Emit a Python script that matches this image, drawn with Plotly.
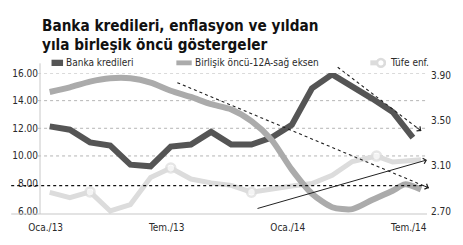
import plotly.graph_objects as go

# ---------------- data ----------------
months = list(range(19))  # Oca./13 ... Tem./14 (month index)
banka_kredileri = [12.14, 11.90, 10.98, 10.75, 9.37, 9.25, 10.68, 10.82, 11.74, 10.82,
                   10.82, 11.33, 12.25, 14.90, 15.90, 15.07, 14.13, 13.18, 11.33]

oncu_x = [0, 1, 2, 3, 4, 5, 6, 7, 8, 9, 10, 11, 12, 13, 14, 15, 16, 17, 17.6, 18.4]
birlesik_oncu = [3.753, 3.794, 3.845, 3.874, 3.874, 3.836, 3.764, 3.709, 3.645, 3.598,
                 3.495, 3.33, 3.066, 2.853, 2.734, 2.717, 2.80, 2.88, 2.936, 2.89]

tufe_x = [0, 1, 2, 3, 4, 5, 6, 7, 8, 9, 10, 11, 12, 13, 14, 15, 16.2, 17, 18.4]
tufe_enf = [7.36, 6.99, 7.40, 6.02, 6.48, 8.44, 9.13, 8.33, 8.05, 7.87,
            7.38, 7.64, 7.83, 8.00, 8.60, 9.60, 9.99, 9.56, 9.72]
tufe_marked = [2, 6, 10, 16]  # indices drawn with open circle markers

tick_months = [0, 6, 12, 18]
tick_labels = ["Oca./13", "Tem./13", "Oca./14", "Tem./14"]
left_ticks = [6, 8, 10, 12, 14, 16]
right_ticks = [2.7, 3.1, 3.5, 3.9]
grid_vals = [10, 12, 14, 16]
ref_line = 7.85

title_lines = ["Banka kredileri, enflasyon ve yıldan", "yıla birleşik öncü göstergeler"]
legend_names = ["Banka kredileri", "Birlişik öncü-12A-sağ eksen", "Tüfe enf."]

# ---------------- style ----------------
W, H = 463, 245
ML, MR, MT, MB = 30, 30, 73, 26
PW, PH = W - ML - MR, H - MT - MB
C_DARK, C_MID, C_LIGHT = "#555555", "#ababab", "#dcdcdc"
FONT = "Liberation Sans Narrow, DejaVu Sans Condensed, Arial Narrow, sans-serif"
TXT = "#2a2a2a"


def px(x, y):
    return (x - ML) / PW, (H - MB - y) / PH


fig = go.Figure()

fig.add_trace(go.Scatter(x=months, y=banka_kredileri, mode="lines",
                         line=dict(color=C_DARK, width=6), yaxis="y"))
fig.add_trace(go.Scatter(x=oncu_x, y=birlesik_oncu, mode="lines",
                         line=dict(color=C_MID, width=6, shape="spline", smoothing=0.7),
                         yaxis="y2"))
sizes = [9 if i in tufe_marked else 0 for i in range(len(tufe_enf))]
fig.add_trace(go.Scatter(x=tufe_x, y=tufe_enf, mode="lines+markers",
                         line=dict(color=C_LIGHT, width=5),
                         marker=dict(size=sizes, color="white",
                                     line=dict(color=C_LIGHT, width=2.5)),
                         yaxis="y"))

shapes = []
# gridlines
for g in grid_vals:
    shapes.append(dict(type="line", xref="paper", yref="y", x0=-0.005, x1=1.0, y0=g, y1=g,
                       line=dict(color="#b5b5b5", width=1, dash="dot"), layer="below"))
# black dotted reference line
x0p, _ = px(0, 0)
shapes.append(dict(type="line", xref="paper", yref="y", x0=x0p, x1=0.995, y0=ref_line, y1=ref_line,
                   line=dict(color="#111111", width=1.2, dash="dot")))
# bottom axis line & left axis line
shapes.append(dict(type="line", xref="paper", yref="paper", x0=x0p, x1=1.0, y0=0, y1=0,
                   line=dict(color="#c8c8c8", width=1.2)))
_, ytop = px(0, 63)
shapes.append(dict(type="line", xref="paper", yref="paper", x0=0, x1=0, y0=0, y1=ytop,
                   line=dict(color="#c8c8c8", width=1)))

annotations = []


def arrow(p0, p1, dotted):
    a0 = px(*p0)
    a1 = px(*p1)
    if dotted:
        shapes.append(dict(type="line", xref="paper", yref="paper", x0=a0[0], y0=a0[1],
                           x1=a1[0], y1=a1[1], line=dict(color="#222222", width=1.1, dash="dot")))
        dx, dy = p1[0] - p0[0], p1[1] - p0[1]
        L = (dx * dx + dy * dy) ** 0.5
        ax, ay = -dx / L * 8, -dy / L * 8
    else:
        ax, ay = p0[0] - p1[0], p0[1] - p1[1]
    annotations.append(dict(xref="paper", yref="paper", x=a1[0], y=a1[1], ax=ax, ay=ay,
                            text="", showarrow=True, arrowhead=4, arrowsize=1.1,
                            arrowwidth=1, arrowcolor="#222222", standoff=0))


arrow((173, 83), (435, 192), True)
arrow((340, 67), (427, 133), True)
arrow((262, 212), (433, 163), False)

# title
for i, (t, yy) in enumerate(zip(title_lines, [24, 44])):
    xx, yp = px(30, yy)
    annotations.append(dict(xref="paper", yref="paper", x=xx, y=yp, xanchor="left", yanchor="middle",
                            text="<b>" + t + "</b>", showarrow=False,
                            font=dict(family=FONT, size=15.2, color="#111111")))

# legend (manual)
ly = 62.5
sw = [(42, 54, C_DARK, 6.5), (172, 188, C_MID, 5)]
for x0, x1, c, h in sw:
    a, b = px(x0, ly - h / 2)
    cc, d = px(x1, ly + h / 2)
    shapes.append(dict(type="rect", xref="paper", yref="paper", x0=a, x1=cc, y0=d, y1=b,
                       fillcolor=c, line=dict(width=0)))
a, b = px(374, ly)
cc, _ = px(390, ly)
shapes.append(dict(type="line", xref="paper", yref="paper", x0=a, x1=cc, y0=b, y1=b,
                   line=dict(color=C_LIGHT, width=5)))
c0, c1 = px(381, ly - 4)
c2, c3 = px(389, ly + 4)
shapes.append(dict(type="circle", xref="paper", yref="paper", x0=c0, x1=c2, y0=c3, y1=c1,
                   fillcolor="white", line=dict(color=C_LIGHT, width=2.5)))
for name, xs in zip(legend_names, [55, 189, 392]):
    xx, yp = px(xs, ly)
    annotations.append(dict(xref="paper", yref="paper", x=xx, y=yp, xanchor="left", yanchor="middle",
                            text=name, showarrow=False,
                            font=dict(family=FONT, size=10, color=TXT)))

fig.update_layout(
    width=W, height=H, margin=dict(l=ML, r=MR, t=MT, b=MB),
    paper_bgcolor="white", plot_bgcolor="white", showlegend=False,
    font=dict(family=FONT, size=10, color=TXT),
    xaxis=dict(range=[-0.48, 18.7], tickvals=[m - 0.2 for m in tick_months], ticktext=tick_labels,
               showgrid=False, zeroline=False, showline=False, ticks="", ticklabelstandoff=6),
    yaxis=dict(range=[5.8, 16], tickvals=left_ticks, tickformat=".2f",
               showgrid=False, zeroline=False, showline=False, ticks="", ticklabelstandoff=1),
    yaxis2=dict(range=[2.674, 3.921], tickvals=right_ticks, tickformat=".2f", overlaying="y",
                side="right", showgrid=False, zeroline=False, showline=False, ticks="",
                ticklabelstandoff=3),
    shapes=shapes, annotations=annotations,
)

fig.write_html("out.html")
